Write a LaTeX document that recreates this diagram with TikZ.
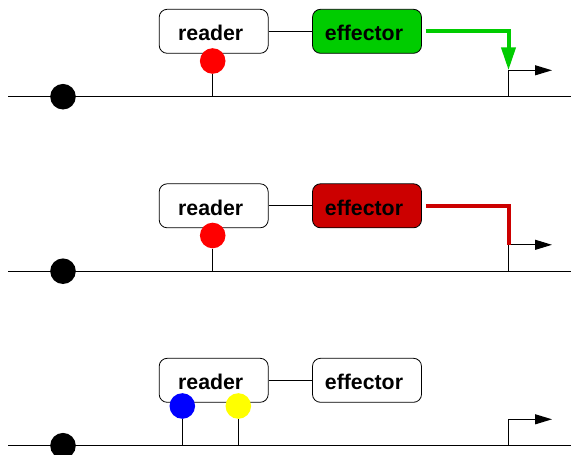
\documentclass[tikz,border=0pt]{standalone}
\usepackage{fontspec}
\setmainfont{Liberation Sans}
\usetikzlibrary{arrows.meta}
\definecolor{effgreen}{RGB}{0,204,0}
\definecolor{effred}{RGB}{204,0,0}
\definecolor{dotred}{RGB}{255,0,0}
\definecolor{dotblue}{RGB}{0,0,255}
\definecolor{dotyellow}{RGB}{255,255,0}
\newcommand{\boxlabel}[1]{\hspace*{-6pt}\raisebox{-1pt}[\dimexpr\height+1pt\relax][\dimexpr\depth-1pt\relax]{#1}}
\begin{document}
\begin{tikzpicture}[x=1pt,y=-1pt,
  box/.style={draw=black, line width=0.8pt, rounded corners=8pt, minimum width=109pt, minimum height=44pt, inner sep=0pt,
    font=\fontsize{21.3}{24}\selectfont\bfseries},
  mark dot/.style={circle, inner sep=0pt, minimum size=25.6pt, draw=none},
  base/.style={line width=1.3pt},
  thin link/.style={line width=0.9pt},
  promo/.style={line width=1.1pt, -{Triangle[length=17pt,width=10pt]}},
  green act/.style={line width=4pt, draw=effgreen, -{Triangle[length=23pt,width=14pt]}, shorten <=4pt},
  red rep/.style={line width=4pt, draw=effred, shorten <=4pt}]
\useasboundingbox (0,0) rectangle (571,455);

% ---------- panel 1 ----------
\node[box, fill=white] (r1) at (213.7,31.3) {\boxlabel{reader}};
\node[box, fill=effgreen] (e1) at (367,31.3) {\boxlabel{effector}};
\draw[thin link] (r1) -- (e1);
\coordinate (bl1) at (8,96.7);
\coordinate (br1) at (571,96.7);
\draw[base] (bl1) -- (br1);
\node[mark dot, fill=black] (c1) at (63,96.7) {};
\node[mark dot, fill=dotred] (m1) at (212.7,61) {};
\coordinate (s1) at (212.7,96.7);
\draw[thin link] (m1) -- (s1);
\coordinate (p1) at (508.5,96.7);
\coordinate (t1) at (508.5,70.3);
\coordinate (a1) at (552,70.3);
\draw[promo] (p1) -- (t1) -- (a1);
\draw[green act] (e1.east) -| (t1);

% ---------- panel 2 ----------
\node[box, fill=white] (r2) at (213.7,205.8) {\boxlabel{reader}};
\node[box, fill=effred] (e2) at (367,205.8) {\boxlabel{effector}};
\draw[thin link] (r2) -- (e2);
\coordinate (bl2) at (8,271.2);
\coordinate (br2) at (571,271.2);
\draw[base] (bl2) -- (br2);
\node[mark dot, fill=black] (c2) at (63,271.2) {};
\node[mark dot, fill=dotred] (m2) at (212.7,235.5) {};
\coordinate (s2) at (212.7,271.2);
\draw[thin link] (m2) -- (s2);
\coordinate (p2) at (508.5,271.2);
\coordinate (t2) at (508.5,244.8);
\coordinate (a2) at (552,244.8);
\draw[promo] (p2) -- (t2) -- (a2);
\draw[red rep] (e2.east) -| (t2);

% ---------- panel 3 ----------
\node[box, fill=white] (r3) at (213.7,380.3) {\boxlabel{reader}};
\node[box, fill=white] (e3) at (367,380.3) {\boxlabel{effector}};
\draw[thin link] (r3) -- (e3);
\coordinate (bl3) at (8,445.7);
\coordinate (br3) at (571,445.7);
\draw[base] (bl3) -- (br3);
\node[mark dot, fill=black] (c3) at (63,445.7) {};
\node[mark dot, fill=dotblue] (m3) at (182.3,406) {};
\node[mark dot, fill=dotyellow] (n3) at (238.3,406) {};
\coordinate (s3) at (182.3,445.7);
\coordinate (u3) at (238.3,445.7);
\draw[thin link] (m3) -- (s3);
\draw[thin link] (n3) -- (u3);
\coordinate (p3) at (508.5,445.7);
\coordinate (t3) at (508.5,419.3);
\coordinate (a3) at (552,419.3);
\draw[promo] (p3) -- (t3) -- (a3);
\end{tikzpicture}
\end{document}
